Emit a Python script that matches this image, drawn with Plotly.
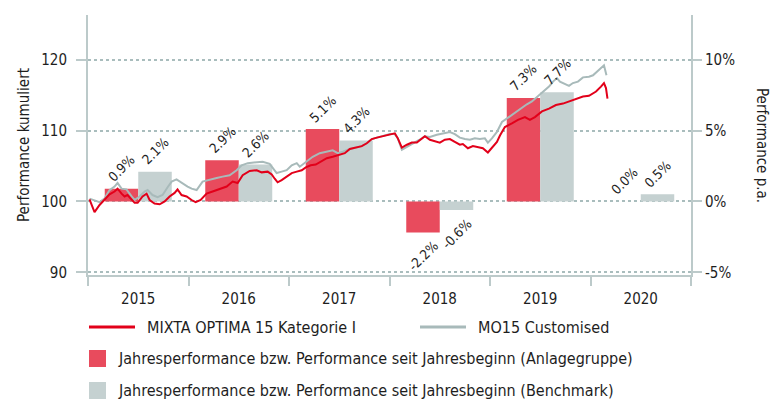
import plotly.graph_objects as go

# ---------------- data ----------------
years = [2015, 2016, 2017, 2018, 2019, 2020]
year_labels = ["2015", "2016", "2017", "2018", "2019", "2020"]

# annual performance in % (right axis)
fund_annual = [0.9, 2.9, 5.1, -2.2, 7.3, 0.0]
bench_annual = [2.1, 2.6, 4.3, -0.6, 7.7, 0.5]

# cumulative performance (left axis), time in decimal years
fund_t = [2015.015, 2015.065, 2015.115, 2015.164, 2015.214, 2015.264, 2015.294, 2015.334, 2015.364, 2015.393,
          2015.434, 2015.464, 2015.494, 2015.543, 2015.583, 2015.613, 2015.662, 2015.713, 2015.763, 2015.812,
          2015.862, 2015.891, 2015.931, 2015.981,
          2016.031, 2016.071, 2016.121, 2016.180, 2016.240, 2016.310, 2016.380, 2016.439, 2016.489, 2016.539,
          2016.609, 2016.679, 2016.728, 2016.788, 2016.828, 2016.858, 2016.887, 2016.927, 2016.977,
          2017.027, 2017.077, 2017.127, 2017.167, 2017.216, 2017.266, 2017.316, 2017.376, 2017.435, 2017.495,
          2017.555, 2017.605, 2017.654, 2017.724, 2017.774, 2017.824, 2017.874, 2017.933,
          2018.003, 2018.053, 2018.083, 2018.123, 2018.173, 2018.222, 2018.272, 2018.322, 2018.352, 2018.402,
          2018.451, 2018.501, 2018.551, 2018.601, 2018.650, 2018.700, 2018.730, 2018.780, 2018.830, 2018.880,
          2018.929, 2018.979,
          2019.019, 2019.069, 2019.099, 2019.148, 2019.218, 2019.278, 2019.348, 2019.397, 2019.447, 2019.517,
          2019.587, 2019.656, 2019.726, 2019.786, 2019.856, 2019.925, 2019.985,
          2020.055, 2020.104, 2020.134, 2020.154, 2020.169]
fund_v = [100.3, 98.5, 99.5, 100.3, 101.0, 101.4, 101.8, 101.1, 100.7, 100.9,
          100.2, 99.8, 99.8, 100.7, 101.1, 100.2, 99.7, 99.6, 100.0, 100.7,
          101.2, 101.7, 100.9, 100.7,
          100.2, 99.9, 100.2, 101.1, 101.4, 101.8, 102.1, 102.8, 102.6, 103.7,
          104.3, 104.4, 104.1, 104.2, 103.8, 103.2, 102.7, 103.0, 103.5,
          104.0, 104.2, 104.4, 104.8, 105.1, 105.2, 105.6, 106.1, 106.3, 106.5,
          106.8, 107.4, 107.6, 107.8, 108.2, 108.8, 109.0, 109.2,
          109.4, 109.6, 108.9, 107.6, 108.0, 108.3, 108.3, 108.9, 109.2, 108.7,
          108.5, 108.3, 108.7, 108.8, 108.4, 108.0, 108.1, 107.5, 107.8, 107.7,
          107.5, 106.9,
          107.5, 108.4, 109.3, 110.5, 111.0, 111.5, 111.9, 111.5, 111.9, 112.7,
          113.1, 113.6, 113.8, 114.1, 114.4, 114.8, 114.9,
          115.5, 116.2, 116.7, 116.0, 114.5]

bench_t = [2015.015, 2015.065, 2015.115, 2015.164, 2015.214, 2015.264, 2015.294, 2015.334, 2015.383, 2015.434,
           2015.464, 2015.513, 2015.563, 2015.593, 2015.642, 2015.692, 2015.742, 2015.792, 2015.832, 2015.881,
           2015.931, 2015.991,
           2016.031, 2016.081, 2016.140, 2016.210, 2016.280, 2016.340, 2016.409, 2016.479, 2016.529, 2016.589,
           2016.679, 2016.738, 2016.808, 2016.838, 2016.877, 2016.927, 2016.977,
           2017.027, 2017.077, 2017.107, 2017.177, 2017.236, 2017.306, 2017.376, 2017.435, 2017.485, 2017.535,
           2017.605, 2017.654, 2017.724, 2017.774, 2017.824, 2017.874, 2017.933,
           2018.003, 2018.053, 2018.083, 2018.123, 2018.173, 2018.222, 2018.272, 2018.322, 2018.352, 2018.402,
           2018.471, 2018.531, 2018.601, 2018.650, 2018.700, 2018.750, 2018.800, 2018.849, 2018.899, 2018.949,
           2018.979,
           2019.019, 2019.069, 2019.119, 2019.168, 2019.228, 2019.298, 2019.367, 2019.417, 2019.477, 2019.527,
           2019.587, 2019.627, 2019.666, 2019.696, 2019.726, 2019.786, 2019.825, 2019.875, 2019.925, 2019.985,
           2020.025, 2020.075, 2020.134, 2020.159]
bench_v = [100.4, 100.1, 99.9, 100.4, 101.6, 102.1, 102.6, 101.8, 101.7, 100.7,
           100.2, 100.7, 101.4, 101.6, 100.9, 100.6, 100.9, 102.0, 102.8, 103.1,
           102.6, 102.1,
           101.8, 101.6, 102.8, 103.0, 103.3, 103.5, 103.7, 104.4, 105.1, 105.4,
           105.5, 105.6, 105.3, 104.7, 104.0, 104.2, 104.4,
           105.1, 105.4, 104.9, 105.6, 106.3, 106.8, 107.0, 107.2, 106.8, 107.0,
           107.4, 107.6, 107.8, 108.2, 108.8, 109.0, 109.2,
           109.5, 109.5, 108.9, 107.3, 107.7, 108.1, 108.4, 108.9, 109.2, 109.1,
           109.4, 109.6, 109.8, 109.5, 109.0, 108.8, 108.7, 108.9, 108.8, 108.9,
           108.3,
           108.9, 109.8, 111.2, 111.7, 112.4, 113.1, 113.7, 114.1, 114.8, 115.5,
           116.2, 116.9, 117.4, 116.9, 116.7, 116.3, 116.7, 116.9, 117.5, 117.6,
           117.8, 118.5, 119.2, 117.8]

left_ticks = [90, 100, 110, 120]
right_ticks = [-5, 0, 5, 10]
right_ticktext = ["-5%", "0%", "5%", "10%"]

fund_name = "MIXTA OPTIMA 15 Kategorie I"
bench_name = "MO15 Customised"
bar_fund_name = "Jahresperformance bzw. Performance seit Jahresbeginn (Anlagegruppe)"
bar_bench_name = "Jahresperformance bzw. Performance seit Jahresbeginn (Benchmark)"

# ---------------- style ----------------
RED_BAR = "#e84b5d"
GREY_BAR = "#c5d1d1"
RED_LINE = "#e2001a"
GREY_LINE = "#a8baba"
AXIS = "#bccaca"
GRID = "#a9bdbd"
TXT = "#1e1e1e"
FONT = "DejaVu Sans Condensed, Liberation Sans, sans-serif"

W, H = 778, 401
ML, MR, MT, MB = 88, 87, 15, 126
PW = W - ML - MR
PH = H - MT - MB


def px(xp):
    return (xp - ML) / PW


def py(yp):
    return 1 - (yp - MT) / PH


bar_centers = [y + 0.5 for y in years]

fig = go.Figure()
fig.add_trace(go.Bar(x=bar_centers, y=fund_annual, name=bar_fund_name, marker=dict(color=RED_BAR, line=dict(width=0)),
                     xaxis="x", yaxis="y", showlegend=False, hoverinfo="skip"))
fig.add_trace(go.Bar(x=bar_centers, y=bench_annual, name=bar_bench_name, marker=dict(color=GREY_BAR, line=dict(width=0)),
                     xaxis="x", yaxis="y", showlegend=False, hoverinfo="skip"))
fig.add_trace(go.Scatter(x=bench_t, y=bench_v, name=bench_name, mode="lines",
                         line=dict(color=GREY_LINE, width=2), xaxis="x", yaxis="y2", showlegend=False))
fig.add_trace(go.Scatter(x=fund_t, y=fund_v, name=fund_name, mode="lines",
                         line=dict(color=RED_LINE, width=2), xaxis="x", yaxis="y2", showlegend=False))

annotations = []
bar_w = (1 - 1 / 3) / 2
for i, yr in enumerate(bar_centers):
    for v, off in ((fund_annual[i], -bar_w / 2), (bench_annual[i], bar_w / 2)):
        annotations.append(dict(
            x=yr + off, y=v, xref="x", yref="y", text=f"{v:.1f}%", textangle=-45, showarrow=False,
            xanchor="center", yanchor="bottom" if v >= 0 else "top", yshift=1 if v >= 0 else -3,
            font=dict(size=13.5, color=TXT, family=FONT)))

# axis titles
annotations.append(dict(x=px(24), y=py(145), xref="paper", yref="paper", text="Performance kumuliert",
                        textangle=-90, showarrow=False, xanchor="center", yanchor="middle",
                        font=dict(size=15, color=TXT, family=FONT)))
annotations.append(dict(x=px(762), y=py(145), xref="paper", yref="paper", text="Performance p.a.",
                        textangle=90, showarrow=False, xanchor="center", yanchor="middle",
                        font=dict(size=15, color=TXT, family=FONT)))

# legend texts
leg = [(145, 327, fund_name), (476, 327, bench_name), (116, 358, bar_fund_name), (116, 390, bar_bench_name)]
for lx, ly, t in leg:
    annotations.append(dict(x=px(lx), y=py(ly), xref="paper", yref="paper", text=t, showarrow=False,
                            xanchor="left", yanchor="middle", font=dict(size=16, color=TXT, family=FONT)))

shapes = [
    dict(type="line", xref="paper", yref="paper", x0=px(89), x1=px(135), y0=py(327), y1=py(327),
         line=dict(color=RED_LINE, width=3)),
    dict(type="line", xref="paper", yref="paper", x0=px(420), x1=px(466), y0=py(327), y1=py(327),
         line=dict(color=GREY_LINE, width=3)),
    dict(type="rect", xref="paper", yref="paper", x0=px(89), x1=px(106), y0=py(367), y1=py(350),
         fillcolor=RED_BAR, line=dict(width=0)),
    dict(type="rect", xref="paper", yref="paper", x0=px(89), x1=px(106), y0=py(399), y1=py(382),
         fillcolor=GREY_BAR, line=dict(width=0)),
]

fig.update_layout(
    width=W, height=H,
    margin=dict(l=ML, r=MR, t=MT, b=MB, pad=0, autoexpand=False),
    paper_bgcolor="white", plot_bgcolor="white",
    font=dict(family=FONT, size=15, color=TXT),
    barmode="group", bargap=1 / 3, bargroupgap=0,
    hovermode=False,
    showlegend=False,
    xaxis=dict(range=[years[0], years[-1] + 1], tickvals=bar_centers, ticktext=year_labels,
               ticks="outside", ticklen=9, tickcolor="rgba(0,0,0,0)",
               showline=True, linecolor=AXIS, linewidth=2, showgrid=False, zeroline=False,
               minor=dict(tickvals=years + [years[-1] + 1], ticks="outside", ticklen=9, tickwidth=2,
                          tickcolor=AXIS, showgrid=False),
               tickfont=dict(size=15, color=TXT), fixedrange=True),
    yaxis=dict(side="right", range=[-5.19, 13.15], tickvals=right_ticks, ticktext=right_ticktext,
               ticks="outside", ticklen=9, tickwidth=2, tickcolor=AXIS,
               showline=True, linecolor=AXIS, linewidth=2, showgrid=False, zeroline=False,
               tickfont=dict(size=15, color=TXT), fixedrange=True),
    yaxis2=dict(overlaying="y", side="left", range=[89.62, 126.3], tickvals=left_ticks,
                ticks="outside", ticklen=10, tickwidth=2, tickcolor=AXIS, ticklabelstandoff=6,
                showline=True, linecolor=AXIS, linewidth=2,
                showgrid=True, gridcolor=GRID, griddash="dot", gridwidth=2, zeroline=False,
                tickfont=dict(size=15, color=TXT), fixedrange=True),
    annotations=annotations,
    shapes=shapes,
)

fig.write_html("out.html", config={"displayModeBar": False},
               post_script="document.body.style.margin='0px';document.body.style.overflow='hidden';")
